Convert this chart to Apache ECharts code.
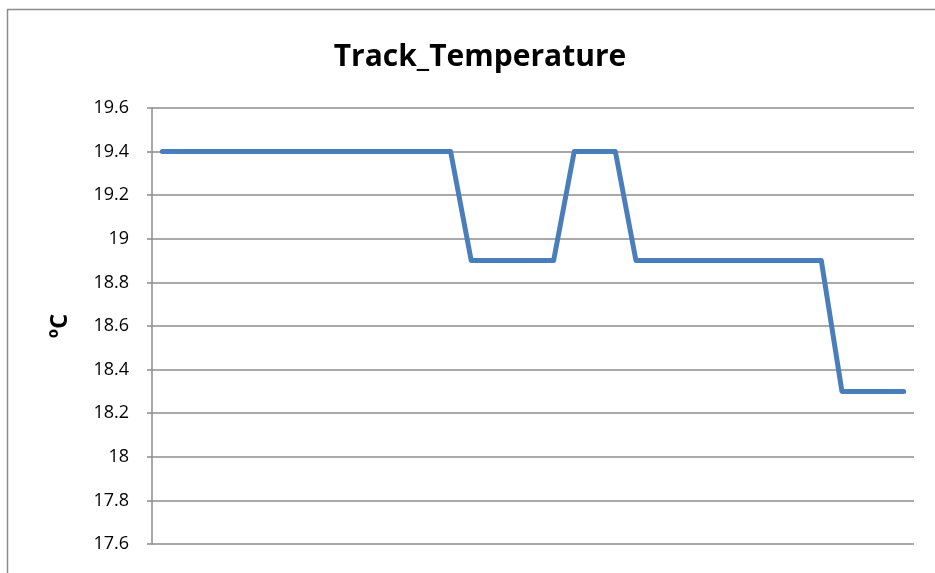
<!DOCTYPE html>
<html>
<head>
<meta charset="utf-8">
<script src="https://cdn.jsdelivr.net/npm/echarts@6/dist/echarts.min.js"></script>
<style>html,body{margin:0;padding:0;background:#fff;}#c{width:935px;height:573px;}</style>
</head>
<body>
<div id="c"></div>
<script>
var titleText = 'Track_Temperature';
var yAxisName = 'ºC';
var categories = [];
for (var i = 1; i <= 37; i++) categories.push(String(i));
var temperature = [
  19.4,19.4,19.4,19.4,19.4,19.4,19.4,19.4,19.4,19.4,19.4,19.4,19.4,19.4,19.4,
  18.9,18.9,18.9,18.9,18.9,
  19.4,19.4,19.4,
  18.9,18.9,18.9,18.9,18.9,18.9,18.9,18.9,18.9,18.9,
  18.3,18.3,18.3,18.3
];
var yMin = 17.6, yMax = 19.6, yStep = 0.2;

var chart = echarts.init(document.getElementById('c'));
chart.setOption({
  animation: false,
  backgroundColor: '#fff',
  graphic: [{
    type: 'rect',
    shape: {x: 7.5, y: 9.5, width: 1000, height: 1000},
    style: {fill: 'none', stroke: '#8c8c8c', lineWidth: 1.5},
    silent: true
  }],
  title: {
    text: titleText,
    left: 475, top: 37, textAlign: 'center',
    textStyle: {fontFamily: 'Open Sans', fontWeight: 'bold', fontSize: 30, color: '#000'}
  },
  grid: {left: 152, right: 21, top: 108, bottom: 29, containLabel: false},
  xAxis: {
    type: 'category',
    data: categories,
    boundaryGap: true,
    axisLine: {show: false},
    axisTick: {show: false},
    axisLabel: {show: false},
    splitLine: {show: false}
  },
  yAxis: {
    type: 'value',
    min: yMin, max: yMax, interval: yStep,
    name: yAxisName,
    nameLocation: 'middle',
    nameGap: 80,
    nameRotate: 90,
    nameTextStyle: {fontFamily: 'Open Sans', fontWeight: 'bold', fontSize: 24, color: '#000'},
    axisLine: {show: true, lineStyle: {color: '#8c8c8c', width: 1.5}},
    axisTick: {show: true, length: 5, lineStyle: {color: '#8c8c8c', width: 1.5}},
    axisLabel: {
      fontFamily: 'Open Sans', fontSize: 18, color: '#000', margin: 23,
      formatter: function (v) { return String(Math.round(v * 10) / 10); }
    },
    splitLine: {show: true, lineStyle: {color: '#8c8c8c', width: 1.5}}
  },
  series: [{
    type: 'line',
    data: temperature,
    showSymbol: false,
    lineStyle: {color: '#4a7ebb', width: 5, cap: 'round', join: 'round'},
    itemStyle: {color: '#4a7ebb'}
  }]
});
</script>
</body>
</html>
